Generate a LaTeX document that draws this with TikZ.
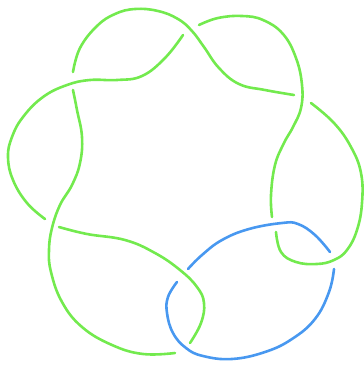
\documentclass[tikz,border=0pt]{standalone}
\usepackage{xcolor}
\usepackage{tikz}
\definecolor{KnotGreen}{RGB}{115,234,78}
\definecolor{LinkBlue}{RGB}{72,152,240}

\begin{document}
\begin{tikzpicture}[
  x=1pt, y=-1pt,
  strand/.style={line width=2.6pt, line cap=round, color=#1},
  strand/.default=KnotGreen,
  arc/.style={smooth, tension=0.7},
]
  \useasboundingbox (0,0) rectangle (364,365);

  % green knot, one arc between two under-passes
  \draw[strand] plot[arc] coordinates {(59,227) (87,234) (125,240) (155,253)
    (180,270) (197,287) (204,303) (201,323) (190,343)};
  \draw[strand] plot[arc] coordinates {(175,353) (143,354) (112,345) (82,327)
    (62,302) (51,272) (49,250) (52,228) (60,205) (72,185) (80,163) (82,137)
    (77,110) (73,90)};
  \draw[strand] plot[arc] coordinates {(73,72) (80,48) (97,26) (115,14)
    (135,9) (158,11) (178,19) (192,31) (204,47) (219,68) (239,84) (265,90)
    (294,95)};
  \draw[strand] plot[arc] coordinates {(311,103) (334,123) (351,147)
    (361,173) (362,203) (357,230) (347,250) (334,260) (317,264) (296,262)
    (281,252) (276,232)};
  \draw[strand] plot[arc] coordinates {(272,217) (271,195) (275,165)
    (284,143) (293,127) (301,108) (302,85) (296,58) (283,34) (263,20)
    (242,16) (218,18) (199,25)};
  \draw[strand] plot[arc] coordinates {(183,35) (165,58) (142,76) (117,80)
    (90,80) (67,85) (43,97) (23,117) (12,137) (8,157) (13,180) (27,203)
    (45,219)};

  % blue loop
  \draw[strand=LinkBlue] plot[arc] coordinates {(188,269) (202,255) (222,240)
    (249,229) (282,223) (298,224) (315,235) (330,252)};
  \draw[strand=LinkBlue] plot[arc] coordinates {(334,269) (329,292) (315,319)
    (292,339) (265,352) (232,359) (203,356) (186,348) (173,333) (167,313)
    (168,297) (177,282)};
\end{tikzpicture}
\end{document}
